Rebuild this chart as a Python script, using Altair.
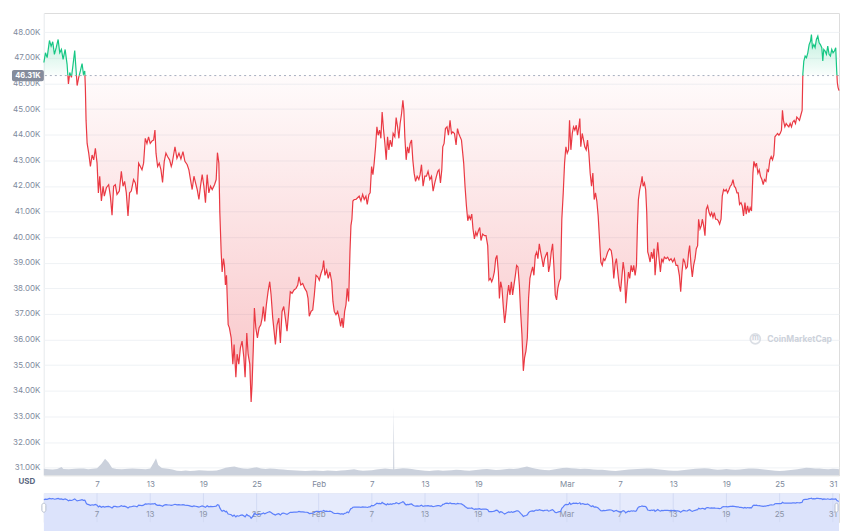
import altair as alt
import pandas as pd

# ---------------- data (prices in thousand USD) ----------------
START = "2022-01-01"
REF_PRICE = 46.31
REF_LABEL = "46.31K"

DAYS_A = [0.00,0.18,0.37,0.63,0.82,1.00,1.19,1.39,1.61,1.79,1.98,2.17,2.40,2.62,2.77,2.92,3.11,3.25,3.48,3.64,
          3.75,3.93,4.12,4.31,4.46,4.61,4.68,4.76,4.88,5.06,5.25,5.44,5.62,5.81,6.00,6.15,6.30,6.49,6.68,6.82,
          7.05,7.31,7.50,7.69,7.87,8.06,8.25,8.51,8.74,8.93,9.11,9.30,9.49,9.67,9.86,10.12,10.32,10.51,10.69,10.88,
          11.07,11.25,11.44,11.63,11.81,12.00,12.23,12.38,12.53,12.65,12.83,13.02,13.21,13.39,13.58,13.77,13.95,14.18,14.37]
PRICE_A = [46.82,47.20,47.01,47.68,47.46,47.63,47.14,47.40,47.72,47.20,47.33,46.94,47.33,46.75,45.98,46.43,46.24,46.62,47.29,46.49,
           45.92,46.24,46.49,46.78,46.37,46.49,45.85,44.56,43.66,43.28,42.76,43.21,43.02,43.47,42.89,41.73,42.38,41.41,41.99,41.60,
           41.93,42.05,41.60,40.86,41.99,42.05,41.67,41.80,42.57,41.99,42.18,41.73,40.83,41.73,41.80,42.25,42.12,41.67,42.89,42.76,
           42.63,42.89,43.86,43.66,43.92,43.66,43.77,43.79,44.18,43.28,42.76,42.89,42.63,42.14,42.96,43.28,43.15,43.02,42.76]

DAYS_B = [14.48,14.79,15.01,15.24,15.46,15.69,15.91,16.17,16.36,16.54,16.73,16.93,17.11,17.30,17.49,17.67,17.86,18.05,18.23,18.42,
          18.61,18.80,18.99,19.25,19.44,19.58,19.74,19.85,20.00,20.11,20.26,20.37,20.48,20.60,20.79,20.93,21.13,21.32,21.46,21.66,
          21.80,21.99,22.17,22.36,22.56,22.70,22.89,23.04,23.23,23.38,23.49,23.64,23.75,23.91,24.09,24.28,24.47,24.62,24.76,24.92,
          25.10,25.29,25.48,25.63,25.82,25.97,26.12,26.31,26.50,26.68,26.87,27.06,27.24,27.43,27.62,27.80,28.00,28.22,28.45,28.64,
          28.78,28.98,29.20,29.43]
PRICE_B = [42.89,43.53,43.08,43.28,43.05,43.34,42.96,42.83,42.63,42.25,41.86,42.38,42.12,41.86,41.47,41.99,42.44,41.99,41.35,42.44,
           41.73,41.99,41.86,42.05,42.25,43.30,42.89,40.96,39.42,38.64,39.16,38.90,38.13,38.51,36.58,36.46,36.07,35.04,35.81,34.53,
           35.43,35.04,35.68,35.94,35.30,34.53,36.26,35.43,35.04,33.56,34.27,35.81,37.23,36.46,36.07,36.46,36.58,36.84,37.29,36.71,
           37.36,37.87,38.26,37.75,36.84,36.33,35.81,36.58,36.84,35.87,37.10,37.29,36.84,36.33,37.10,37.87,37.81,37.94,38.00,38.13,
           38.45,38.13,38.19,38.00]

DAYS_C = [29.65,29.80,29.94,30.14,30.33,30.51,30.70,30.89,31.07,31.26,31.45,31.56,31.71,31.90,32.08,32.27,32.47,32.61,32.76,32.95,
          33.14,33.32,33.48,33.63,33.77,33.93,34.08,34.22,34.38,34.53,34.64,34.75,34.86,35.01,35.20,35.39,35.57,35.77,35.96,36.14,
          36.33,36.48,36.67,36.81,36.97,37.12,37.26,37.42,37.57,37.71,37.87,38.02,38.16,38.32,38.47,38.62,38.77,38.92,39.07,39.26,
          39.40,39.59,39.74,39.90,40.05,40.19,40.35,40.50,40.61,40.72,40.87,41.02,41.17,41.32,41.48,41.62,41.77,41.93,42.11,42.30,
          42.44,42.60,42.78,42.97,43.16,43.34,43.54,43.73,43.91,44.10,44.29]
PRICE_C = [37.87,37.61,36.91,37.10,37.16,37.74,38.51,38.45,38.32,38.58,38.77,39.09,38.51,38.71,38.39,38.64,38.26,37.49,37.10,36.97,
           37.10,36.84,36.52,36.84,36.46,37.10,37.36,38.00,37.49,39.42,40.45,40.70,41.41,41.47,41.47,41.54,41.60,41.41,41.67,41.47,
           41.60,41.28,41.67,41.73,42.76,42.44,42.89,43.53,44.31,43.98,44.18,43.86,44.89,44.18,43.66,43.02,43.92,43.41,43.79,43.53,
           44.05,43.92,44.67,44.31,43.86,44.44,44.82,45.34,44.95,43.92,43.02,43.53,43.28,43.66,43.79,43.02,42.50,42.18,42.38,42.25,
           42.44,42.83,41.99,42.38,42.38,42.57,42.25,42.38,41.80,42.12,42.38]

DAYS_D = [44.44,44.58,44.74,44.89,45.00,45.15,45.30,45.48,45.64,45.82,45.98,46.13,46.32,46.50,46.66,46.80,46.95,47.11,47.25,47.36,
          47.51,47.67,47.82,47.96,48.12,48.27,48.41,48.57,48.72,48.86,49.02,49.17,49.31,49.50,49.70,49.88,50.07,50.21,50.37,50.52,
          50.66,50.82,50.97,51.11,51.27,51.39,51.53,51.68,51.84,51.98,52.13,52.29,52.43,52.58,52.74,52.88,53.03,53.19,53.33,53.48,
          53.64,53.78,53.93,54.09,54.23,54.38,54.54,54.68,54.83,54.99,55.14,55.28,55.44,55.59,55.73,55.89,56.04,56.18,56.34,56.49,
          56.63,56.79,56.94,57.08,57.24,57.39,57.53,57.69,57.84,57.98,58.14,58.29,58.43,58.59,58.74,58.89,59.04,59.19]
PRICE_D = [42.57,42.63,42.12,42.63,43.53,43.66,44.24,44.31,43.98,44.56,44.05,44.11,44.05,43.60,44.24,44.05,43.92,43.79,43.28,42.89,
           41.99,41.22,40.64,40.83,40.70,40.90,40.32,39.93,40.19,40.06,40.25,40.38,39.87,40.12,40.06,40.06,39.67,38.32,38.39,38.26,
           38.39,38.64,39.16,39.29,38.64,37.61,38.26,38.00,37.23,36.65,37.10,37.74,38.13,37.74,38.26,37.74,38.13,38.51,38.90,38.84,
           38.13,37.10,36.20,34.78,35.30,35.55,36.07,37.61,38.39,38.64,38.84,38.51,39.29,39.42,39.16,39.74,39.42,39.16,38.84,39.16,
           39.29,39.42,38.64,38.90,39.42,39.74,38.90,37.74,37.55,38.00,38.26,38.39,40.70,41.73,42.89,43.53,43.28,43.41]

DAYS_E = [59.30,59.45,59.61,59.75,59.90,60.06,60.20,60.35,60.46,60.57,60.73,60.88,61.02,61.18,61.33,61.48,61.63,61.78,61.93,62.08,
          62.23,62.38,62.53,62.68,62.83,62.99,63.13,63.28,63.43,63.61,63.81,64.00,64.14,64.29,64.45,64.59,64.74,64.90,65.05,65.19,
          65.35,65.50,65.64,65.80,65.95,66.09,66.25,66.40,66.54,66.70,66.85,66.96,67.07,67.22,67.38,67.49,67.60,67.75,67.89,68.01,
          68.12,68.23,68.39,68.54,68.68,68.84,68.95,69.10,69.25,69.40,69.55,69.70,69.85,70.00,70.19,70.37,70.56,70.75,70.94,71.13,
          71.32,71.50,71.69,71.84,71.99,72.14,72.29,72.44,72.59,72.74,72.85,73.01,73.15,73.30,73.46,73.60,73.75,73.86,74.02,74.17]
PRICE_E = [44.56,43.41,44.05,44.31,44.18,44.37,43.98,44.31,44.63,43.53,44.05,43.79,43.53,43.41,43.79,43.28,42.50,41.99,42.50,41.47,
           41.73,41.41,40.83,39.93,39.03,38.90,39.16,39.09,39.22,39.42,39.55,39.48,39.16,38.39,38.97,39.16,38.64,38.13,37.87,38.39,
           39.03,38.64,37.42,38.13,38.64,38.39,38.90,38.64,38.90,38.51,38.90,40.45,41.47,41.86,42.12,42.38,41.99,42.12,41.86,40.96,
           39.42,39.29,39.03,39.42,39.16,39.55,38.51,39.16,39.80,39.16,38.64,39.16,39.03,39.22,39.16,39.22,39.09,39.16,39.03,39.16,
           38.90,38.90,38.51,37.87,38.64,39.16,39.03,38.77,38.84,39.42,39.67,38.90,38.45,38.90,39.16,39.55,39.67,40.70,40.32,40.45]

DAYS_F = [74.28,74.43,74.58,74.73,74.88,75.04,75.18,75.33,75.48,75.63,75.78,75.94,76.08,76.23,76.39,76.53,76.68,76.84,76.98,77.13,
          77.29,77.43,77.58,77.74,77.88,78.03,78.19,78.33,78.48,78.64,78.78,78.93,79.09,79.23,79.38,79.54,79.68,79.83,79.99,80.10,
          80.25,80.39,80.55,80.70,80.84,81.00,81.15,81.29,81.45,81.60,81.74,81.90,82.05,82.20,82.35,82.47,82.61,82.76,82.92,83.06,
          83.21,83.32,83.43,83.59,83.74,83.88,84.04,84.19,84.34,84.49,84.64,84.79,84.94,85.09,85.24,85.39,85.54,85.62,85.73,85.88,
          86.03,86.18,86.33,86.48,86.59,86.70,86.86,87.00,87.15,87.31,87.46,87.60,87.76,87.87,87.98,88.13,88.28,88.43,88.58,88.73,
          88.88,89.03,89.18,89.33,89.44,89.51,89.59,89.70]
PRICE_F = [40.70,40.45,40.06,41.09,41.22,40.96,40.83,40.96,40.77,40.96,40.70,40.70,40.64,40.51,40.70,41.60,41.86,41.80,41.86,41.73,
           41.86,41.99,42.05,42.25,41.99,41.93,41.73,41.73,41.28,41.35,41.22,40.83,41.35,40.90,41.22,40.96,41.15,41.02,42.50,42.96,
           42.76,42.89,42.50,42.63,42.38,42.25,42.05,42.25,42.18,42.63,42.57,43.02,43.15,43.02,43.21,43.92,43.98,44.05,43.98,44.05,
           44.18,44.95,44.56,44.31,44.44,44.37,44.31,44.44,44.31,44.50,44.56,44.44,44.69,44.63,44.56,44.76,44.95,46.37,46.88,47.07,
           47.01,47.20,47.52,47.65,47.91,47.40,47.52,47.40,47.72,47.85,47.59,47.52,47.40,46.88,47.33,47.27,47.14,47.46,47.14,47.07,
           47.33,47.20,47.27,47.40,46.49,46.04,45.85,45.72]

# volume (billion USD), (day offset, value)
VOLUME_POINTS = [(0.0,28),(0.5,26),(1.0,25),(1.5,27),(2.0,36),(2.2,27),(2.8,26),(3.5,28),(4.0,30),(4.5,29),(5.0,26),(5.5,28),
    (6.0,31),(6.5,50),(6.9,72),(7.3,55),(7.7,32),(8.2,27),(8.8,26),(9.5,28),(10.0,29),(10.5,28),(11.0,27),(11.5,26),(12.0,30),
    (12.4,55),(12.65,74),(12.9,45),(13.3,32),(14.0,28),(14.5,25),(15.0,20),(15.5,19),(16.0,21),(16.5,19),(17.0,20),(17.5,22),
    (18.0,21),(18.5,20),(19.0,20),(19.5,21),(20.0,26),(20.5,33),(21.0,36),(21.5,38),(22.0,33),(22.5,30),(23.0,28),(23.5,32),
    (24.0,35),(24.5,30),(25.0,27),(25.5,29),(26.0,28),(26.5,26),(27.0,25),(27.5,23),(28.0,22),(28.5,21),(29.0,20),(29.5,19),
    (30.0,20),(30.5,21),(31.0,20),(31.5,19),(32.0,21),(32.5,20),(33.0,19),(33.5,21),(34.0,22),(34.5,24),(35.0,26),(35.5,22),
    (36.0,20),(36.5,21),(37.0,22),(37.5,25),(38.0,27),(38.5,29),(39.0,27),(39.4,26),(39.47,297),(39.53,26),(40.0,28),(40.5,31),
    (41.0,30),(41.5,27),(42.0,24),(42.5,22),(43.0,20),(43.5,19),(44.0,21),(44.5,22),(45.0,20),(45.5,21),(46.0,22),(46.5,24),
    (47.0,23),(47.5,21),(48.0,20),(48.5,22),(49.0,24),(49.5,26),(50.0,27),(50.5,25),(51.0,23),(51.5,24),(52.0,26),(52.5,28),
    (53.0,27),(53.5,30),(54.0,34),(54.5,38),(55.0,33),(55.5,28),(56.0,25),(56.5,23),(57.0,22),(57.5,25),(58.0,28),(58.5,32),
    (59.0,33),(59.5,31),(60.0,29),(60.5,27),(61.0,28),(61.5,27),(62.0,25),(62.5,24),(63.0,24),(63.5,22),(64.0,20),(64.5,19),
    (65.0,21),(65.5,23),(66.0,25),(66.5,26),(67.0,27),(67.5,28),(68.0,30),(68.5,29),(69.0,27),(69.5,25),(70.0,23),(70.5,21),
    (71.0,20),(71.5,20),(72.0,22),(72.5,24),(73.0,26),(73.5,28),(74.0,29),(74.5,31),(75.0,29),(75.5,26),(76.0,24),(76.5,25),
    (77.0,27),(77.5,25),(78.0,24),(78.5,25),(79.0,27),(79.5,29),(80.0,30),(80.5,28),(81.0,26),(81.5,24),(82.0,22),(82.5,20),
    (83.0,19),(83.5,20),(84.0,22),(84.5,24),(85.0,26),(85.5,30),(86.0,33),(86.5,32),(87.0,30),(87.5,29),(88.0,27),(88.5,26),
    (89.0,28),(89.5,27),(89.7,26)]

TICK_DATES = ["2022-01-07","2022-01-13","2022-01-19","2022-01-25","2022-02-01","2022-02-07","2022-02-13",
              "2022-02-19","2022-03-01","2022-03-07","2022-03-13","2022-03-19","2022-03-25","2022-03-31"]
TICK_LABELS = ["7","13","19","25","Feb","7","13","19","Mar","7","13","19","25","31"]
Y_TICKS = list(range(31, 49))

# ---------------- styles ----------------
GREEN = "#16c784"
RED = "#ea3943"
LABEL = "#808a9d"
GRID = "#eff2f5"
FONT = "Inter"
W, H = 798, 464
NAV_H = 29

# ---------------- frames ----------------
t0 = pd.Timestamp(START)
days = DAYS_A + DAYS_B + DAYS_C + DAYS_D + DAYS_E + DAYS_F
prices = PRICE_A + PRICE_B + PRICE_C + PRICE_D + PRICE_E + PRICE_F
price_df = pd.DataFrame({"t": t0 + pd.to_timedelta(days, unit="D"), "p": prices})

# add the points where the line crosses the reference level (for two-coloured drawing)
dense = []
for i, (d, p) in enumerate(zip(days, prices)):
    if i > 0:
        d0, p0 = days[i - 1], prices[i - 1]
        if (p0 - REF_PRICE) * (p - REF_PRICE) < 0:
            f = (REF_PRICE - p0) / (p - p0)
            dense.append((d0 + f * (d - d0), REF_PRICE))
    dense.append((d, p))

rows = []
seg = 0
side = "up" if dense[0][1] >= REF_PRICE else "down"
for d, p in dense:
    rows.append((d, p, seg, side))
    if p == REF_PRICE:
        seg += 1
        side = "down" if side == "up" else "up"
        rows.append((d, p, seg, side))
line_df = pd.DataFrame(rows, columns=["d", "p", "seg", "side"])
line_df["t"] = t0 + pd.to_timedelta(line_df["d"], unit="D")

area_df = pd.DataFrame({"d": [r[0] for r in dense], "p": [r[1] for r in dense]})
area_df["t"] = t0 + pd.to_timedelta(area_df["d"], unit="D")
area_df["lo"] = area_df["p"].clip(upper=REF_PRICE)
area_df["hi"] = area_df["p"].clip(lower=REF_PRICE)
area_df["ref"] = REF_PRICE

vol_df = pd.DataFrame(VOLUME_POINTS, columns=["d", "v"])
vol_df["t"] = t0 + pd.to_timedelta(vol_df["d"], unit="D")

ref_df = pd.DataFrame({"ref": [REF_PRICE], "top": [REF_PRICE + 0.22], "bot": [REF_PRICE - 0.22], "label": [REF_LABEL]})
one_df = pd.DataFrame({"k": [0]})
tick_df = pd.DataFrame({"t": pd.to_datetime(TICK_DATES), "label": TICK_LABELS})

# ---------------- main chart ----------------
tick_vals = [alt.DateTime(year=int(s[:4]), month=int(s[5:7]), date=int(s[8:10])) for s in TICK_DATES]
x_axis = alt.Axis(values=tick_vals,
                  labelExpr="date(datum.value) == 1 ? timeFormat(datum.value, '%b') : '' + date(datum.value)",
                  ticks=False, domain=False, grid=False, title=None, labelColor=LABEL, labelFontSize=8,
                  labelFont=FONT, labelPadding=5, minExtent=14, maxExtent=14)
xs = alt.Scale(nice=False)
X = alt.X("t:T", axis=x_axis, scale=xs)

y_axis = alt.Axis(values=Y_TICKS, labelExpr="format(datum.value, '.2f') + 'K'", grid=True, gridColor=GRID,
                  domainColor=GRID, ticks=False, title=None, labelColor=LABEL, labelFontSize=8, labelFont=FONT,
                  labelPadding=4, minExtent=32, maxExtent=32)
ys = alt.Scale(domain=[30.70, 48.754], nice=False, zero=False)

def Y(field):
    return alt.Y(field, scale=ys, axis=y_axis)

red_grad = alt.Gradient(gradient="linear", x1=0, x2=0, y1=0, y2=1,
                        stops=[alt.GradientStop(color="rgba(234,57,67,0.02)", offset=0),
                               alt.GradientStop(color="rgba(234,57,67,0.30)", offset=1)])
green_grad = alt.Gradient(gradient="linear", x1=0, x2=0, y1=0, y2=1,
                          stops=[alt.GradientStop(color="rgba(22,199,132,0.28)", offset=0),
                                 alt.GradientStop(color="rgba(22,199,132,0.02)", offset=1)])

volume = alt.Chart(vol_df).mark_area(color="#cbd1dc").encode(
    x=X, y=alt.Y("v:Q", scale=alt.Scale(domain=[0, 2000]), axis=None))

red_area = alt.Chart(area_df).mark_area(fill=red_grad).encode(x=X, y=Y("lo:Q"), y2="ref:Q")
green_area = alt.Chart(area_df).mark_area(fill=green_grad).encode(x=X, y=Y("hi:Q"), y2="ref:Q")

ref_rule = alt.Chart(ref_df).mark_rule(color="#a7afbf", strokeDash=[2, 3], strokeWidth=1).encode(y=Y("ref:Q"))

lines = alt.Chart(line_df).mark_line(strokeWidth=1.2).encode(
    x=X, y=Y("p:Q"),
    color=alt.Color("side:N", scale=alt.Scale(domain=["up", "down"], range=[GREEN, RED]), legend=None),
    detail="seg:N", order="d:Q")

badge = alt.Chart(ref_df).mark_rect(color="#858c9c", cornerRadius=2).encode(
    x=alt.value(-32), x2=alt.value(0), y=Y("top:Q"), y2="bot:Q")
badge_text = alt.Chart(ref_df).mark_text(color="white", fontSize=7.5, fontWeight="bold", font=FONT,
                                         align="center", baseline="middle").encode(
    x=alt.value(-16), y=Y("ref:Q"), text="label:N")

usd = alt.Chart(one_df).mark_text(text="USD", color="#58667e", fontSize=8, fontWeight="bold", font=FONT,
                                  align="center", baseline="middle").encode(x=alt.value(-17), y=alt.value(471))

wm_logo = alt.Chart(one_df).mark_point(shape="circle", size=100, strokeWidth=1.8, color="#cdd2db",
                                       filled=False).encode(x=alt.value(714), y=alt.value(327))
wm_m = alt.Chart(one_df).mark_text(text="m", color="#cdd2db", fontSize=7.5, fontWeight="bold", font=FONT,
                                   align="center", baseline="middle").encode(x=alt.value(714), y=alt.value(326))
wm_text = alt.Chart(one_df).mark_text(text="CoinMarketCap", color="#cdd2db", fontSize=8.5, fontWeight="bold",
                                      font=FONT, align="left", baseline="middle").encode(x=alt.value(726), y=alt.value(327))

price_layer = alt.layer(red_area, green_area, ref_rule, lines, badge, badge_text, usd, wm_logo, wm_m, wm_text)
main = alt.layer(volume, price_layer).resolve_scale(y="independent").properties(width=W, height=H)

# ---------------- navigator ----------------
NX = alt.X("t:T", axis=None, scale=alt.Scale(nice=False))
NY = alt.Y("p:Q", axis=None, scale=alt.Scale(domain=[30.8, 51.4], nice=False, zero=False))

nav_bg = alt.Chart(one_df).mark_rect(color="#e6ebfc").encode(
    x=alt.value(0), x2=alt.value(W), y=alt.value(0), y2=alt.value(NAV_H))
nav_area = alt.Chart(price_df).mark_area(color="#dce3fb").encode(x=NX, y=NY, y2=alt.value(NAV_H))
nav_grid = alt.Chart(tick_df).mark_rule(color="#d3dbf4", strokeWidth=1).encode(
    x=NX, y=alt.value(0), y2=alt.value(NAV_H))
nav_labels = alt.Chart(tick_df).mark_text(color="#8b94a8", fontSize=8, font=FONT, baseline="middle").encode(
    x=NX, y=alt.value(22), text="label:N")
nav_line = alt.Chart(price_df).mark_line(color="#5d80fb", strokeWidth=1.2).encode(x=NX, y=NY)
handle_l = alt.Chart(one_df).mark_rect(color="white", stroke="#b7bfcf", strokeWidth=1, cornerRadius=2).encode(
    x=alt.value(-2), x2=alt.value(2), y=alt.value(10), y2=alt.value(19))
handle_r = alt.Chart(one_df).mark_rect(color="white", stroke="#b7bfcf", strokeWidth=1, cornerRadius=2).encode(
    x=alt.value(794), x2=alt.value(797), y=alt.value(10), y2=alt.value(19))

nav = alt.layer(nav_bg, nav_area, nav_grid, nav_labels, nav_line, handle_l, handle_r).properties(width=W, height=NAV_H)

chart = alt.vconcat(main, nav, spacing=2).properties(
    padding={"left": 3, "top": 3, "right": 0, "bottom": 0},
    background="white",
).configure_view(stroke=None).configure(font=FONT)

chart.save("out.html", embed_options={"renderer": "svg", "actions": False})
